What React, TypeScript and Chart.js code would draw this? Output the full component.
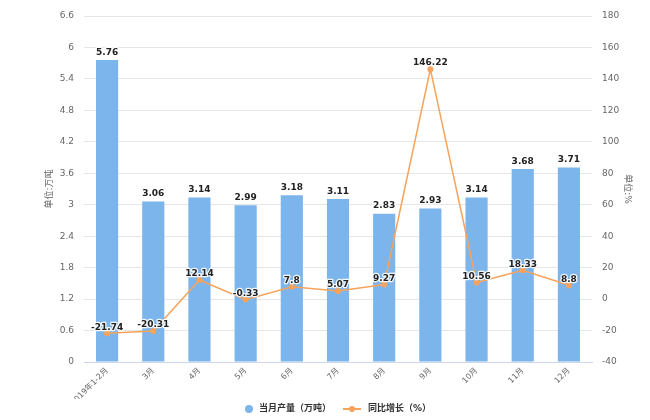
import React, { useEffect, useRef } from "react";
import { Chart, registerables } from "chart.js";

Chart.register(...registerables);

const categories = ["2019年1-2月", "3月", "4月", "5月", "6月", "7月", "8月", "9月", "10月", "11月", "12月"];
const production = [5.76, 3.06, 3.14, 2.99, 3.18, 3.11, 2.83, 2.93, 3.14, 3.68, 3.71];
const growth = [-21.74, -20.31, 12.14, -0.33, 7.8, 5.07, 9.27, 146.22, 10.56, 18.33, 8.8];
const seriesNames = ["当月产量（万吨）", "同比增长（%）"];
const leftTitle = "单位:万吨";
const rightTitle = "单位:%";

const BLUE = "#7cb5ec";
const ORANGE = "#f7a35c";
const FONT = "'DejaVu Sans', 'Noto Sans CJK SC', sans-serif";

const labelPlugin = {
  id: "valueLabels",
  afterDatasetsDraw(chart: any) {
    const ctx = chart.ctx;
    ctx.save();
    ctx.font = `bold 9px ${FONT}`;
    ctx.textAlign = "center";
    ctx.textBaseline = "bottom";
    chart.data.datasets.forEach((ds: any, di: number) => {
      const meta = chart.getDatasetMeta(di);
      const isLine = ds.type === "line";
      meta.data.forEach((el: any, i: number) => {
        const txt = String(ds.data[i]);
        const y = isLine ? el.y - 1.5 : el.y - 3;
        ctx.lineJoin = "round";
        ctx.lineWidth = 2.5;
        ctx.strokeStyle = "rgba(255,255,255,0.9)";
        ctx.strokeText(txt, el.x, y);
        ctx.fillStyle = "#222";
        ctx.fillText(txt, el.x, y);
      });
    });
    ctx.restore();
  },
};

const legendPlugin = {
  id: "customLegend",
  afterDraw(chart: any) {
    const ctx = chart.ctx;
    ctx.save();
    ctx.font = `bold 9px ${FONT}`;
    ctx.textBaseline = "middle";
    ctx.textAlign = "left";
    const y = 409;
    const w0 = ctx.measureText(seriesNames[0]).width;
    const w1 = ctx.measureText(seriesNames[1]).width;
    const total = 8 + 6 + w0 + 12 + 18 + 7 + w1;
    let x = 338 - total / 2;
    ctx.fillStyle = BLUE;
    ctx.beginPath();
    ctx.arc(x + 4, y, 4, 0, Math.PI * 2);
    ctx.fill();
    x += 8 + 6;
    ctx.fillStyle = "#333";
    ctx.fillText(seriesNames[0], x, y);
    x += w0 + 12;
    ctx.strokeStyle = ORANGE;
    ctx.lineWidth = 2;
    ctx.beginPath();
    ctx.moveTo(x, y);
    ctx.lineTo(x + 18, y);
    ctx.stroke();
    ctx.fillStyle = ORANGE;
    ctx.beginPath();
    ctx.arc(x + 9, y, 3, 0, Math.PI * 2);
    ctx.fill();
    x += 18 + 7;
    ctx.fillStyle = "#333";
    ctx.fillText(seriesNames[1], x, y);
    ctx.restore();
  },
};

export default function App() {
  const ref = useRef<HTMLCanvasElement | null>(null);
  useEffect(() => {
    if (!ref.current) return;
    const chart = new Chart(ref.current, {
      type: "bar",
      data: {
        labels: categories,
        datasets: [
          {
            type: "line",
            label: seriesNames[1],
            data: growth,
            yAxisID: "y1",
            borderColor: ORANGE,
            backgroundColor: ORANGE,
            borderWidth: 1.5,
            pointRadius: 3,
            pointBackgroundColor: ORANGE,
            pointBorderWidth: 0,
            tension: 0,
            order: 0,
          } as any,
          {
            type: "bar",
            label: seriesNames[0],
            data: production,
            yAxisID: "y",
            backgroundColor: BLUE,
            barPercentage: 0.48,
            categoryPercentage: 1,
            order: 1,
          },
        ],
      },
      options: {
        animation: false,
        responsive: false,
        maintainAspectRatio: false,
        layout: { padding: { top: 16, left: 0, right: 0, bottom: 21 } },
        plugins: {
          legend: { display: false },
          tooltip: { enabled: false },
        },
        scales: {
          x: {
            grid: { display: false, drawTicks: false },
            border: { display: true, color: "#ccd6eb" },
            ticks: {
              minRotation: 45,
              maxRotation: 45,
              autoSkip: false,
              padding: 4,
              color: "#666",
              font: { size: 8, family: FONT },
            },
            afterFit(s: any) {
              s.height = 37;
            },
          },
          y: {
            position: "left",
            min: 0,
            max: 6.6,
            ticks: {
              stepSize: 0.6,
              padding: 10,
              color: "#666",
              font: { size: 9, family: FONT },
              callback: (v: any) => String(Math.round(Number(v) * 10) / 10),
            },
            grid: { color: "#e6e6e6", drawTicks: false },
            border: { display: false },
            title: {
              display: true,
              text: leftTitle,
              color: "#666",
              font: { size: 9, family: FONT },
              padding: { top: 44, bottom: 0 },
            },
            afterFit(s: any) {
              s.width = 84;
            },
          },
          y1: {
            position: "right",
            min: -40,
            max: 180,
            ticks: {
              stepSize: 20,
              padding: 10,
              color: "#666",
              font: { size: 9, family: FONT },
            },
            grid: { display: false, drawTicks: false },
            border: { display: false },
            title: {
              display: true,
              text: rightTitle,
              color: "#666",
              font: { size: 9, family: FONT },
              padding: { top: 17, bottom: 0 },
            },
            afterFit(s: any) {
              s.width = 58;
            },
          },
        },
      },
      plugins: [labelPlugin, legendPlugin],
    });
    return () => chart.destroy();
  }, []);
  return (
    <div style={{ position: "fixed", left: 0, top: 0, width: 650, height: 420, background: "#fff" }}>
      <canvas ref={ref} width={650} height={420} style={{ width: 650, height: 420 }} />
    </div>
  );
}
